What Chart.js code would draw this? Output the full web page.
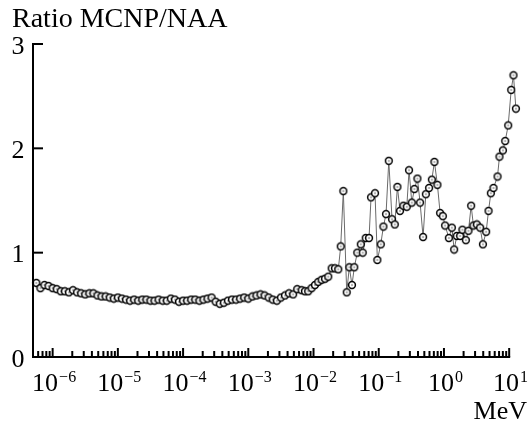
<!DOCTYPE html>
<html>
<head>
<meta charset="utf-8">
<script src="https://cdn.jsdelivr.net/npm/chart.js@4/dist/chart.umd.min.js"></script>
<style>
  html, body { margin: 0; padding: 0; background: #fff; }
  #wrap { width: 528px; height: 426px; position: relative; }
</style>
</head>
<body>
<div id="wrap"><canvas id="c" width="528" height="426"></canvas></div>
<script>
// Neutron energy (MeV)
const energy = [
  5.623e-7, 6.494e-7, 7.499e-7, 8.660e-7,
  1.000e-6, 1.155e-6, 1.334e-6, 1.540e-6, 1.778e-6, 2.054e-6, 2.371e-6, 2.738e-6,
  3.162e-6, 3.652e-6, 4.217e-6, 4.870e-6, 5.623e-6, 6.494e-6, 7.499e-6, 8.660e-6,
  1.000e-5, 1.155e-5, 1.334e-5, 1.540e-5, 1.778e-5, 2.054e-5, 2.371e-5, 2.738e-5,
  3.162e-5, 3.652e-5, 4.217e-5, 4.870e-5, 5.623e-5, 6.494e-5, 7.499e-5, 8.660e-5,
  1.000e-4, 1.155e-4, 1.334e-4, 1.540e-4, 1.778e-4, 2.054e-4, 2.371e-4, 2.738e-4,
  3.162e-4, 3.652e-4, 4.217e-4, 4.870e-4, 5.623e-4, 6.494e-4, 7.499e-4, 8.660e-4,
  1.000e-3, 1.155e-3, 1.334e-3, 1.540e-3, 1.778e-3, 2.054e-3, 2.371e-3, 2.738e-3,
  3.162e-3, 3.652e-3, 4.217e-3, 4.870e-3, 5.623e-3,
  6.58e-3, 7.40e-3, 8.30e-3, 9.35e-3, 1.052e-2, 1.183e-2, 1.334e-2, 1.500e-2,
  1.683e-2, 1.897e-2, 2.133e-2, 2.399e-2, 2.612e-2, 2.864e-2, 3.228e-2, 3.540e-2,
  3.89e-2, 4.22e-2, 4.69e-2, 5.30e-2, 5.68e-2, 6.31e-2, 7.10e-2, 7.62e-2,
  8.77e-2, 9.53e-2, 0.1074, 0.1178, 0.1294, 0.1426, 0.1600, 0.1762,
  0.1932, 0.2123, 0.2388, 0.2692, 0.2917, 0.3214, 0.3524, 0.3917,
  0.4305, 0.4786, 0.5272, 0.5916, 0.6516, 0.7145, 0.7943, 0.8730,
  0.9616, 1.042, 1.189, 1.321, 1.432, 1.574, 1.770, 1.919,
  2.167, 2.377, 2.612, 2.831, 3.192, 3.589, 3.954, 4.436,
  4.819, 5.236, 5.741, 6.622, 7.096, 8.017, 8.690, 9.661,
  10.74, 11.64, 12.68
];
// Ratio MCNP / NAA
const ratio = [
  0.71, 0.66, 0.69, 0.68,
  0.66, 0.65, 0.63, 0.63, 0.62, 0.64, 0.62, 0.61,
  0.60, 0.61, 0.61, 0.59, 0.58, 0.58, 0.57, 0.56,
  0.57, 0.56, 0.55, 0.54, 0.55, 0.54, 0.55, 0.55,
  0.54, 0.54, 0.55, 0.54, 0.54, 0.56, 0.55, 0.53,
  0.54, 0.54, 0.55, 0.55, 0.54, 0.55, 0.56, 0.57,
  0.53, 0.51, 0.52, 0.54, 0.55, 0.55, 0.56, 0.57,
  0.56, 0.58, 0.59, 0.60, 0.59, 0.57, 0.55, 0.54,
  0.57, 0.59, 0.61, 0.60, 0.65,
  0.64, 0.63, 0.63, 0.66, 0.69, 0.72, 0.74, 0.75,
  0.77, 0.85, 0.85, 0.84, 1.06, 1.59, 0.62, 0.86,
  0.69, 0.86, 1.00, 1.08, 1.00, 1.14, 1.14, 1.53,
  1.57, 0.93, 1.08, 1.25, 1.37, 1.88, 1.32, 1.27,
  1.63, 1.40, 1.45, 1.44, 1.79, 1.48, 1.61, 1.71,
  1.48, 1.15, 1.56, 1.62, 1.70, 1.87, 1.65, 1.38,
  1.35, 1.26, 1.14, 1.24, 1.03, 1.16, 1.16, 1.22,
  1.12, 1.21, 1.45, 1.26, 1.27, 1.24, 1.08, 1.20,
  1.40, 1.57, 1.62, 1.73, 1.92, 1.98, 2.07, 2.22,
  2.56, 2.70, 2.38
];
const yTicks = [0, 1, 2, 3];
const xDecades = [-6, -5, -4, -3, -2, -1, 0, 1];
const xExpLabels = ['\u22126', '\u22125', '\u22124', '\u22123', '\u22122', '\u22121', '0', '1'];
const yTitle = 'Ratio MCNP/NAA';
const xTitle = 'MeV';

// circled-dot marker
const marker = document.createElement('canvas');
marker.width = 10; marker.height = 10;
(function () {
  const m = marker.getContext('2d');
  m.beginPath(); m.arc(5, 5, 3.4, 0, Math.PI * 2);
  m.fillStyle = '#fff'; m.fill();
  m.lineWidth = 1.5; m.strokeStyle = '#000'; m.stroke();
  m.beginPath(); m.arc(5, 5, 0.8, 0, Math.PI * 2);
  m.fillStyle = '#555'; m.fill();
})();

const FONT = '"Liberation Serif", "Times New Roman", serif';

const axesPlugin = {
  id: 'axesPlugin',
  afterDraw(chart) {
    const ctx = chart.ctx;
    const xs = chart.scales.x, ys = chart.scales.y;
    const x0 = chart.chartArea.left;
    const y0 = ys.getPixelForValue(0);
    const xEnd = xs.getPixelForValue(10);
    ctx.save();
    ctx.strokeStyle = '#000';
    ctx.fillStyle = '#000';
    ctx.lineWidth = 2;
    ctx.lineCap = 'butt';
    ctx.beginPath();
    ctx.moveTo(x0, ys.getPixelForValue(3) - 1);
    ctx.lineTo(x0, y0);
    ctx.moveTo(x0 - 1, y0);
    ctx.lineTo(xEnd + 1, y0);
    ctx.stroke();
    // y ticks + labels
    ctx.font = '26px ' + FONT;
    ctx.textAlign = 'right';
    ctx.textBaseline = 'alphabetic';
    yTicks.forEach(v => {
      const py = ys.getPixelForValue(v);
      ctx.beginPath(); ctx.moveTo(x0, py); ctx.lineTo(x0 + 10, py); ctx.stroke();
      ctx.fillText(String(v), 24.5, py + 9.5);
    });
    // x ticks
    for (let d = -7; d <= 1; d++) {
      for (let m = 1; m <= 9; m++) {
        const v = m * Math.pow(10, d);
        if (v < 4.99e-7 || v > 10.01) continue;
        const px = xs.getPixelForValue(v);
        const len = (m === 1) ? 9 : 6;
        ctx.beginPath(); ctx.moveTo(px, y0); ctx.lineTo(px, y0 - len); ctx.stroke();
      }
    }
    // x labels
    xDecades.forEach((d, i) => {
      const px = xs.getPixelForValue(Math.pow(10, d));
      ctx.font = '26px ' + FONT;
      const wb = ctx.measureText('10').width;
      ctx.font = '16px ' + FONT;
      const we = ctx.measureText(xExpLabels[i]).width;
      let left = px - (wb + we) / 2 + 1;
      if (left + wb + we > 527) left = 527 - wb - we;
      ctx.textAlign = 'left';
      ctx.font = '26px ' + FONT;
      ctx.fillText('10', left, 391);
      ctx.font = '16px ' + FONT;
      ctx.fillText(xExpLabels[i], left + wb + 1, 382);
    });
    // titles
    ctx.font = '26px ' + FONT;
    ctx.textAlign = 'right';
    ctx.fillText(xTitle, 527, 419);
    ctx.font = '28px ' + FONT;
    ctx.textAlign = 'left';
    ctx.fillText(yTitle, 12, 27);
    ctx.restore();
  }
};

new Chart(document.getElementById('c'), {
  type: 'line',
  data: {
    datasets: [{
      data: energy.map((e, i) => ({ x: e, y: ratio[i] })),
      borderColor: '#6a6a6a',
      borderWidth: 1,
      pointStyle: marker,
      pointRadius: 6,
      pointBorderWidth: 0,
      tension: 0,
      clip: false
    }]
  },
  options: {
    responsive: false,
    animation: false,
    events: [],
    layout: { padding: { left: 33, right: 11, top: 44, bottom: 69 } },
    plugins: { legend: { display: false }, tooltip: { enabled: false } },
    scales: {
      x: { type: 'logarithmic', min: 5e-7, max: 13.18, display: false },
      y: { type: 'linear', min: 0, max: 3, display: false }
    }
  },
  plugins: [axesPlugin]
});
</script>
</body>
</html>
